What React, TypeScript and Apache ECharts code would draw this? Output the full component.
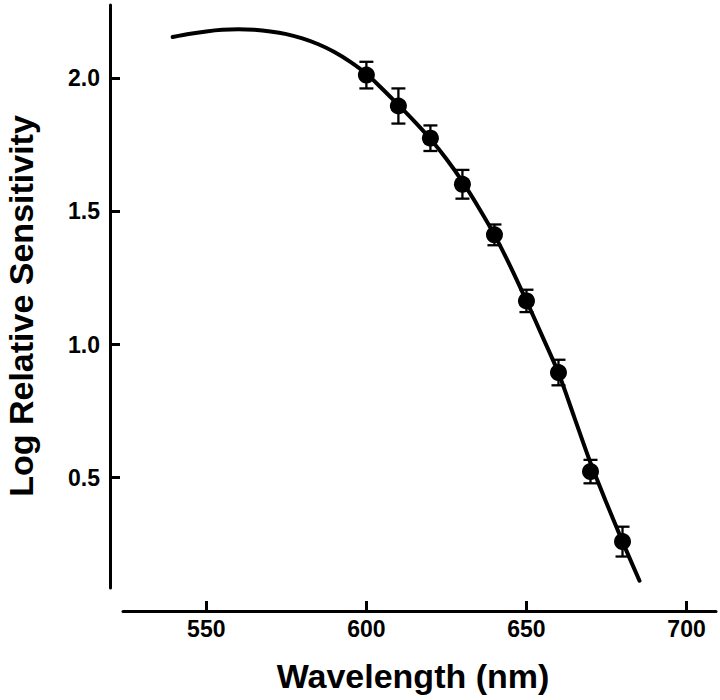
import React, { useEffect, useRef } from "react";
import * as echarts from "echarts";

// Measured data points (wavelength in nm, log relative sensitivity, ± error)
const wavelengths = [600, 610, 620, 630, 640, 650, 660, 670, 680];
const sensitivity = [2.012, 1.896, 1.775, 1.602, 1.412, 1.164, 0.895, 0.523, 0.26];
const errors = [0.05, 0.066, 0.048, 0.054, 0.039, 0.042, 0.048, 0.044, 0.056];

// Fitted template curve
const curveWavelengths = [
  539.5, 545, 550, 555, 560, 565, 570, 575, 580, 585, 590, 595, 600, 605, 610,
  615, 620, 625, 630, 635, 640, 645, 650, 655, 660, 665, 670, 675, 680, 685.3,
];
const curveValues = [
  2.155, 2.167, 2.176, 2.182, 2.184, 2.182, 2.176, 2.166, 2.15, 2.128, 2.099,
  2.062, 2.017, 1.96, 1.9, 1.838, 1.772, 1.697, 1.612, 1.516, 1.412, 1.293,
  1.164, 1.03, 0.893, 0.725, 0.556, 0.405, 0.26, 0.113,
];

// Tick labels
const xTicks = [550, 600, 650, 700];
const yTicks = [0.5, 1.0, 1.5, 2.0];

const FONT = '"Liberation Sans", Arial, Helvetica, sans-serif';

export default function App() {
  const ref = useRef<HTMLDivElement>(null);

  useEffect(() => {
    if (!ref.current) return;
    const chart = echarts.init(ref.current, undefined, { renderer: "svg" });

    chart.setOption({
      animation: false,
      backgroundColor: "#fff",
      grid: {
        left: 123,
        right: 4,
        top: 5,
        bottom: 112,
        containLabel: false,
        outerBoundsMode: "none",
      },
      xAxis: {
        type: "value",
        min: 523.98,
        max: 709.2,
        offset: 23,
        name: "Wavelength (nm)",
        nameLocation: "middle",
        nameGap: 48,
        nameTextStyle: {
          color: "#000",
          fontFamily: FONT,
          fontWeight: "bold",
          fontSize: 34,
          padding: [0, 13, 0, 0],
        },
        axisLine: { show: true, onZero: false, lineStyle: { color: "#000", width: 3 } },
        axisTick: {
          show: true,
          inside: true,
          length: 10,
          customValues: xTicks,
          lineStyle: { color: "#000", width: 3 },
        },
        axisLabel: {
          color: "#000",
          fontFamily: FONT,
          fontWeight: "bold",
          fontSize: 23,
          margin: 6,
          customValues: xTicks,
        },
        splitLine: { show: false },
      },
      yAxis: {
        type: "value",
        min: 0.0858,
        max: 2.2753,
        offset: 13,
        name: "Log Relative Sensitivity",
        nameLocation: "middle",
        nameGap: 72,
        nameTextStyle: {
          color: "#000",
          fontFamily: FONT,
          fontWeight: "bold",
          fontSize: 34,
          padding: [0, 19, 0, 0],
        },
        axisLine: { show: true, onZero: false, lineStyle: { color: "#000", width: 3 } },
        axisTick: {
          show: true,
          inside: true,
          length: 10,
          customValues: yTicks,
          lineStyle: { color: "#000", width: 3 },
        },
        axisLabel: {
          color: "#000",
          fontFamily: FONT,
          fontWeight: "bold",
          fontSize: 23,
          margin: 10,
          customValues: yTicks,
          formatter: (v: number) => v.toFixed(1),
        },
        splitLine: { show: false },
      },
      series: [
        {
          type: "custom",
          name: "error",
          data: wavelengths.map((w, i) => [w, sensitivity[i] - errors[i], sensitivity[i] + errors[i]]),
          encode: { x: 0, y: [1, 2] },
          renderItem: (params: any, api: any) => {
            const x = api.value(0);
            const pLo = api.coord([x, api.value(1)]);
            const pHi = api.coord([x, api.value(2)]);
            const hw = 7;
            const style = { stroke: "#000", lineWidth: 2.3 };
            return {
              type: "group",
              children: [
                { type: "line", shape: { x1: pLo[0], y1: pLo[1], x2: pHi[0], y2: pHi[1] }, style },
                { type: "line", shape: { x1: pLo[0] - hw, y1: pLo[1], x2: pLo[0] + hw, y2: pLo[1] }, style },
                { type: "line", shape: { x1: pHi[0] - hw, y1: pHi[1], x2: pHi[0] + hw, y2: pHi[1] }, style },
              ],
            };
          },
          z: 2,
        },
        {
          type: "line",
          name: "template",
          data: curveWavelengths.map((w, i) => [w, curveValues[i]]),
          smooth: 0.3,
          showSymbol: false,
          lineStyle: { color: "#000", width: 4, cap: "round" },
          z: 3,
        },
        {
          type: "scatter",
          name: "data",
          data: wavelengths.map((w, i) => [w, sensitivity[i]]),
          symbol: "circle",
          symbolSize: 17,
          itemStyle: { color: "#000", opacity: 1 },
          z: 4,
        },
      ],
    });

    return () => chart.dispose();
  }, []);

  return (
    <div
      ref={ref}
      style={{ position: "fixed", left: 0, top: 0, width: 720, height: 700, background: "#fff" }}
    />
  );
}
